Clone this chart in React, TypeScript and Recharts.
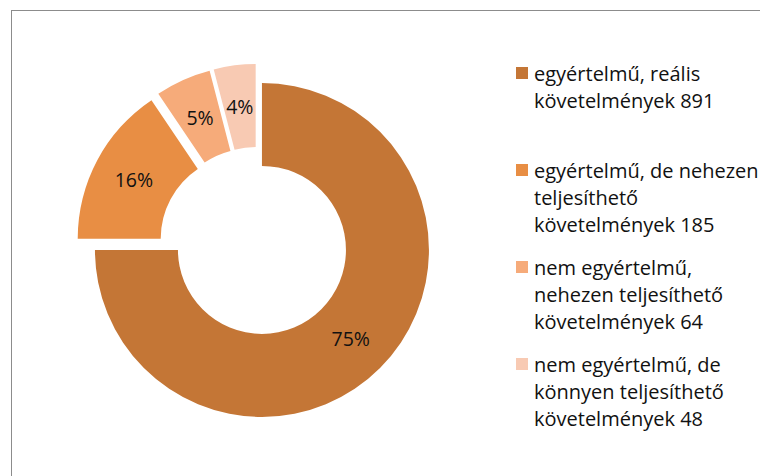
import React from 'react';
import { PieChart, Pie, Cell, Legend } from 'recharts';

// legend names (line breaks as in the original legend)
const categories = [
  'egyértelmű, reális\nkövetelmények',
  'egyértelmű, de nehezen\nteljesíthető\nkövetelmények',
  'nem egyértelmű,\nnehezen teljesíthető\nkövetelmények',
  'nem egyértelmű, de\nkönnyen teljesíthető\nkövetelmények',
];
const counts = [891, 185, 64, 48];
const colors = ['#C47636', '#E88E44', '#F6AB7A', '#F8CAB3'];
// how far each slice is pulled out of the donut (px)
const explode = [6.3, 14.5, 14.5, 14.5];

const data = categories.map((name, i) => ({ name, value: counts[i] }));
const total = counts.reduce((a, b) => a + b, 0);

const CX = 257.5;
const CY = 245.5;
const INNER = 84;
const OUTER = 167;
const FONT = '"Open Sans", sans-serif';
const RAD = Math.PI / 180;

// shift of each slice along its bisector (angles clockwise from 12 o'clock)
const offsets = counts.map((v, i) => {
  const before = counts.slice(0, i).reduce((a, b) => a + b, 0);
  const mid = ((before + v / 2) / total) * 360;
  return { dx: explode[i] * Math.sin(mid * RAD), dy: -explode[i] * Math.cos(mid * RAD) };
});

const renderLabel = (target: number) => (props: any) => {
  if (props.index !== target) return null;
  const { cx, cy, midAngle, innerRadius, outerRadius, percent } = props;
  const r = (innerRadius + outerRadius) / 2;
  const x = cx + r * Math.cos(-midAngle * RAD);
  const y = cy + r * Math.sin(-midAngle * RAD);
  return (
    <text x={x} y={y} textAnchor="middle" dominantBaseline="central" fill="#111" fontSize={19.5} fontFamily={FONT}>
      {`${Math.round(percent * 100)}%`}
    </text>
  );
};

const LegendContent = () => (
  <div style={{ fontFamily: FONT, fontSize: 20, lineHeight: '27px', color: '#111' }}>
    {data.map((d, i) => (
      <div key={d.name} style={{ position: 'relative', height: 97, paddingLeft: 18 }}>
        <span
          style={{ position: 'absolute', left: 0, top: 7.5, width: 12, height: 12, background: colors[i] }}
        />
        <div style={{ whiteSpace: 'pre' }}>{`${d.name} ${d.value}`}</div>
      </div>
    ))}
  </div>
);

export default function App() {
  return (
    <div style={{ position: 'fixed', left: 0, top: 0, width: 760, height: 476, overflow: 'hidden', background: '#fff' }}>
      {/* chart frame: only its top and left edges fall inside the picture */}
      <div
        style={{
          position: 'absolute',
          left: 11,
          top: 10,
          width: 760,
          height: 480,
          borderTop: '1px solid #8c8c8c',
          borderLeft: '1px solid #8c8c8c',
        }}
      />
      <div style={{ position: 'absolute', left: 0, top: 0 }}>
        <PieChart width={760} height={476} margin={{ top: 0, right: 0, bottom: 0, left: 0 }}>
          {data.map((_, k) => (
            <Pie
              key={k}
              data={data}
              dataKey="value"
              nameKey="name"
              cx={CX + offsets[k].dx}
              cy={CY + offsets[k].dy}
              innerRadius={INNER}
              outerRadius={OUTER}
              startAngle={90}
              endAngle={-270}
              stroke="none"
              label={renderLabel(k)}
              labelLine={false}
              isAnimationActive={false}
            >
              {data.map((d, i) => (
                <Cell key={d.name} fill={i === k ? colors[i] : 'none'} stroke="none" />
              ))}
            </Pie>
          ))}
          <Legend
            layout="vertical"
            align="right"
            verticalAlign="top"
            content={<LegendContent />}
            wrapperStyle={{ left: 516, top: 59.5, width: 250, right: 'auto' }}
          />
        </PieChart>
      </div>
    </div>
  );
}
